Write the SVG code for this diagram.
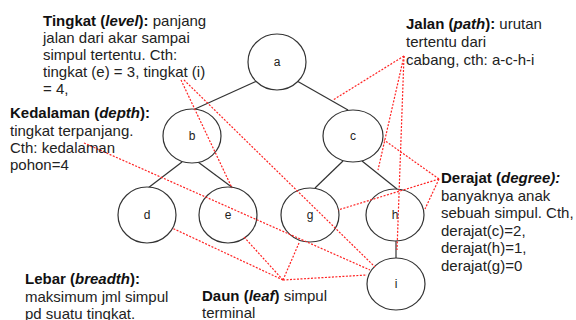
<svg xmlns="http://www.w3.org/2000/svg" width="576" height="320" viewBox="0 0 576 320">
<style>
.n ellipse{fill:#fff;stroke:#333;stroke-width:1.2}
.n text{font-family:"Liberation Sans",Arial,sans-serif;font-size:12px;fill:#222;text-anchor:middle}
.e line{stroke:#333;stroke-width:1.2}
.r line{stroke:#f22;stroke-width:1.2;stroke-dasharray:2 1.5}
.t{font-family:"Liberation Sans",Arial,sans-serif;font-size:15px;fill:#222}
.b{font-weight:bold;fill:#111}
.i{font-style:italic}
</style>
<rect width="576" height="320" fill="#fff"/>
<g id="edges" class="e">
<line x1="257" y1="81" x2="195" y2="109"/>
<line x1="297" y1="81" x2="348" y2="110"/>
<line x1="182" y1="162" x2="148" y2="188"/>
<line x1="198" y1="162" x2="233" y2="188"/>
<line x1="343" y1="161" x2="315" y2="188"/>
<line x1="362" y1="161" x2="397" y2="189"/>
<line x1="396" y1="241" x2="396" y2="258"/>
</g>
<g id="n-a" class="n"><ellipse cx="277" cy="62" rx="29" ry="28"/><text x="277" y="66">a</text></g>
<g id="n-b" class="n"><ellipse cx="192" cy="136" rx="29" ry="27"/><text x="192" y="140">b</text></g>
<g id="n-c" class="n"><ellipse cx="353" cy="136" rx="30" ry="26"/><text x="353" y="140">c</text></g>
<g id="n-d" class="n"><ellipse cx="147" cy="215" rx="29" ry="28"/><text x="147" y="219">d</text></g>
<g id="n-e" class="n"><ellipse cx="228" cy="215" rx="29" ry="28"/><text x="228" y="219">e</text></g>
<g id="n-g" class="n"><ellipse cx="310" cy="215" rx="29" ry="27"/><text x="310" y="219">g</text></g>
<g id="n-h" class="n"><ellipse cx="395" cy="215" rx="29" ry="26"/><text x="395" y="219">h</text></g>
<g id="n-i" class="n"><ellipse cx="396" cy="284" rx="29" ry="26"/><text x="396" y="288">i</text></g>
<g id="pointers" class="r">
<line x1="181" y1="80" x2="232" y2="188"/>
<line x1="184" y1="80" x2="375" y2="267"/>
<line x1="84" y1="143" x2="370" y2="270"/>
<line x1="404" y1="56" x2="333" y2="100"/>
<line x1="404" y1="56" x2="378" y2="170"/>
<line x1="404" y1="56" x2="397" y2="250"/>
<line x1="439" y1="179" x2="384" y2="140"/>
<line x1="439" y1="179" x2="338" y2="210"/>
<line x1="439" y1="179" x2="425" y2="209"/>
<line x1="283" y1="280" x2="172" y2="228"/>
<line x1="283" y1="280" x2="244" y2="237"/>
<line x1="283" y1="280" x2="299" y2="243"/>
<line x1="283" y1="280" x2="367" y2="275"/>
</g>
<g id="label-tingkat" class="t">
<text x="43" y="26"><tspan class="b">Tingkat (<tspan class="i">level</tspan>):</tspan> panjang</text>
<text x="43" y="43">jalan dari akar sampai</text>
<text x="43" y="60">simpul tertentu. Cth:</text>
<text x="43" y="77">tingkat (e) = 3, tingkat (i)</text>
<text x="43" y="94">= 4,</text>
</g>
<g id="label-kedalaman" class="t">
<text x="10" y="118"><tspan class="b">Kedalaman (<tspan class="i">depth</tspan>):</tspan></text>
<text x="10" y="136">tingkat terpanjang.</text>
<text x="10" y="153">Cth: kedalaman</text>
<text x="10" y="170">pohon=4</text>
</g>
<g id="label-jalan" class="t">
<text x="406" y="29"><tspan class="b">Jalan (<tspan class="i">path</tspan>):</tspan> urutan</text>
<text x="406" y="47">tertentu dari</text>
<text x="406" y="65">cabang, cth: a-c-h-i</text>
</g>
<g id="label-derajat" class="t">
<text x="441" y="183"><tspan class="b">Derajat (<tspan class="i">degree):</tspan></tspan></text>
<text x="441" y="201">banyaknya anak</text>
<text x="441" y="218">sebuah simpul. Cth,</text>
<text x="441" y="236">derajat(c)=2,</text>
<text x="441" y="253">derajat(h)=1,</text>
<text x="441" y="271">derajat(g)=0</text>
</g>
<g id="label-lebar" class="t">
<text x="25" y="284"><tspan class="b">Lebar (<tspan class="i">breadth</tspan>):</tspan></text>
<text x="25" y="302">maksimum jml simpul</text>
<text x="25" y="319">pd suatu tingkat.</text>
</g>
<g id="label-daun" class="t">
<text x="202" y="301"><tspan class="b">Daun (<tspan class="i">leaf</tspan>)</tspan> simpul</text>
<text x="202" y="318">terminal</text>
</g>
</svg>
